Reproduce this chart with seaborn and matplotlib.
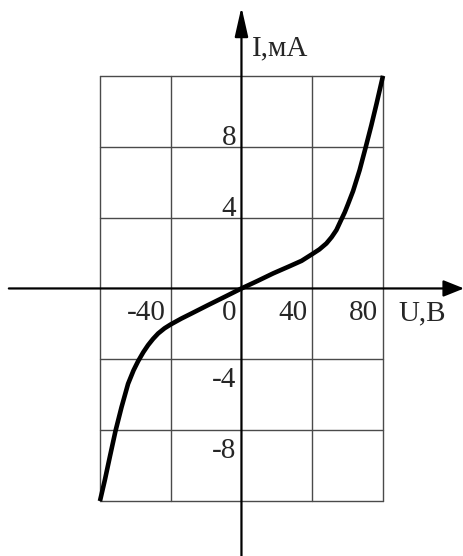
import matplotlib
matplotlib.use("Agg")
import matplotlib.pyplot as plt
import seaborn as sns
import pandas as pd

# Current-voltage characteristic of a nonlinear element
voltage_v = [-80, -77.2, -74.4, -71.2, -67.8, -64.1, -61, -58.4, -55.5, -52.8,
             -50, -47.1, -43.5, -40, -34, -28.2, -18.9, -9.4, 0, 9, 17.9, 27.3,
             34, 40, 44, 48, 51, 53.7, 56.5, 58.4, 60.2, 63.1, 66.8, 70.2, 73.4,
             76.3, 80]
current_ma = [-12, -10.8, -9.5, -8.04, -6.7, -5.38, -4.62, -4.1, -3.6, -3.2,
              -2.85, -2.54, -2.25, -2.03, -1.7, -1.41, -0.94, -0.47, 0, 0.42,
              0.85, 1.26, 1.56, 1.94, 2.2, 2.54, 2.9, 3.3, 3.9, 4.3, 4.75, 5.5,
              6.68, 7.96, 9.2, 10.4, 12]

x_ticks = [-80, -40, 0, 40, 80]
x_tick_labels = ["", "-40", "0", "40", "80"]
y_ticks = [-12, -8, -4, 0, 4, 8, 12]
y_tick_labels = ["", "-8", "-4", "", "4", "8", ""]
x_axis_label = "U,В"
y_axis_label = "I,мА"

sns.set_style("white")
plt.rcParams["font.family"] = ["Liberation Serif", "DejaVu Serif"]

fig = plt.figure(figsize=(4.64, 5.56), dpi=100)
ax = fig.add_axes([0, 0, 1, 1])
ax.set_xlim(-136.5, 125.8)
ax.set_ylim(-15.1, 16.28)
ax.axis("off")

grid_kw = dict(color="#4a4a4a", lw=1.0, zorder=1)
# vertical grid lines
for u in x_ticks:
    if u != 0:
        ax.plot([u, u], [y_ticks[0], y_ticks[-1]], **grid_kw)
# horizontal grid lines
for i in y_ticks:
    if i != 0:
        ax.plot([x_ticks[0], x_ticks[-1]], [i, i], **grid_kw)

# coordinate axes with arrow heads
arrow_x = dict(arrowstyle="-|>,head_length=1.05,head_width=0.42", color="black",
               lw=1.6, mutation_scale=12, shrinkA=0, shrinkB=0)
arrow_y = dict(arrowstyle="-|>,head_length=1.5,head_width=0.34", color="black",
               lw=1.6, mutation_scale=12, shrinkA=0, shrinkB=0)
ax.annotate("", xy=(125.8, 0), xytext=(-131.5, 0), arrowprops=arrow_x, zorder=3)
ax.annotate("", xy=(0, 15.88), xytext=(0, -15.1), arrowprops=arrow_y, zorder=3)

df = pd.DataFrame({"U": voltage_v, "I": current_ma})
sns.lineplot(data=df, x="U", y="I", sort=False, color="black", lw=3.3, ax=ax,
             zorder=4, solid_joinstyle="round", solid_capstyle="butt")

fs = 21
for u, lab in zip(x_ticks, x_tick_labels):
    if lab:
        ax.annotate(lab, xy=(u, 0), xytext=(-5, -32), textcoords="offset pixels",
                    ha="right", va="baseline", fontsize=fs)
for i, lab in zip(y_ticks, y_tick_labels):
    if lab:
        dy = 2 if i > 0 else -28
        ax.annotate(lab, xy=(0, i), xytext=(-5, dy), textcoords="offset pixels",
                    ha="right", va="baseline", fontsize=fs)

ax.annotate(x_axis_label, xy=(80, 0), xytext=(15, -32), textcoords="offset pixels",
            ha="left", va="baseline", fontsize=fs)
ax.annotate(y_axis_label, xy=(0, 15.88), xytext=(10, -48),
            textcoords="offset pixels", ha="left", va="baseline", fontsize=fs)

fig.savefig("out.png", dpi=100)
